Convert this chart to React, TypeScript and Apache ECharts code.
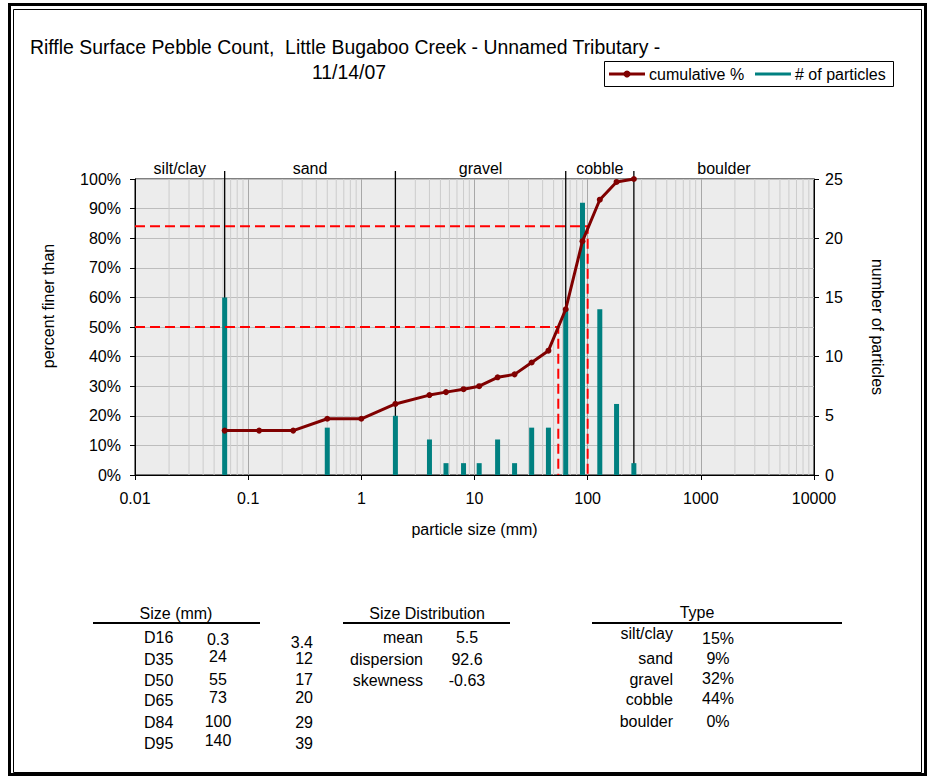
import React, { useEffect, useRef } from "react";
import * as echarts from "echarts";

// ---------------- data ----------------
const particleSizes = [0.062, 0.125, 0.25, 0.5, 1, 2, 4, 5.6, 8, 11, 16, 22.6, 32, 45, 64, 90, 128, 180, 256];
const cumulativePct = [15, 15, 15, 19, 19, 24, 27, 28, 29, 30, 33, 34, 38, 42, 56, 79, 93, 99, 100];
const countSizes = [0.062, 0.5, 2, 4, 5.6, 8, 11, 16, 22.6, 32, 45, 64, 90, 128, 180, 256];
const particleCounts = [15, 4, 5, 3, 1, 1, 1, 3, 1, 4, 4, 14, 23, 14, 6, 1];
const classNames = ["silt/clay", "sand", "gravel", "cobble", "boulder"];
const classBounds = [0.01, 0.062, 2, 64, 256, 10000];
const xTickLabels = ["0.01", "0.1", "1", "10", "100", "1000", "10000"];
const dLabels = ["D16", "D35", "D50", "D65", "D84", "D95"];
const dPercents = [16, 35, 50, 65, 84, 95];
const dSizes = ["0.3", "24", "55", "73", "100", "140"];
const dSecond = ["3.4", "12", "17", "20", "29", "39"];
const distLabels = ["mean", "dispersion", "skewness"];
const distValues = ["5.5", "92.6", "-0.63"];
const typeLabels = ["silt/clay", "sand", "gravel", "cobble", "boulder"];
const typeValues = ["15%", "9%", "32%", "44%", "0%"];
const titleLine1 = "Riffle Surface Pebble Count,  Little Bugaboo Creek - Unnamed Tributary -";
const titleLine2 = "11/14/07";

// ---------------- layout ----------------
const FONT = '"Liberation Sans", Arial, sans-serif';
const sizeRowY = [637, 659, 680, 700, 722, 743];
const sizeValY = [639, 656, 679, 697, 721, 740];
const sizeSecY = [642, 658, 679, 697, 722, 743];
const distRowY = [637, 659, 680];
const typeRowY = [633, 658, 679, 699, 721];
const typeValY = [638, 658, 678, 698, 721];

const dGuide = (p: number) => {
  const i = dPercents.indexOf(p);
  const s = parseFloat(dSizes[i]);
  return [[0.01, p], [s, p], [s, 0]];
};

// minor log grid positions (axis styling)
const minorGrid: number[][] = [];
for (let e = -2; e < 4; e++) {
  for (let k = 2; k <= 9; k++) minorGrid.push([k * Math.pow(10, e), 0]);
}

const txt = (text: string, x: number, y: number, align: string, size = 16, extra: any = {}) => ({
  type: "text",
  x,
  y,
  style: { text, fill: "#000", font: `${size}px ${FONT}`, align, verticalAlign: "middle" },
  ...extra,
});

const hline = (x1: number, x2: number, y: number, w = 2) => ({
  type: "line",
  shape: { x1, y1: y, x2, y2: y },
  style: { stroke: "#000", lineWidth: w },
});

function buildOption(): any {
  const graphics: any[] = [
    // outer double border
    { type: "rect", shape: { x: 9.5, y: 4.5, width: 916, height: 770 }, style: { fill: "none", stroke: "#000", lineWidth: 3 } },
    { type: "rect", shape: { x: 13.5, y: 9.5, width: 908, height: 763 }, style: { fill: "none", stroke: "#000", lineWidth: 1 } },
    // title
    txt(titleLine1, 30, 47, "left", 19.4),
    txt(titleLine2, 349, 72, "center", 19.4),
    // legend
    { type: "rect", shape: { x: 604.5, y: 61.5, width: 289, height: 25 }, style: { fill: "#fff", stroke: "#000", lineWidth: 1 } },
    { type: "line", shape: { x1: 609, y1: 74, x2: 645, y2: 74 }, style: { stroke: "#800000", lineWidth: 3 } },
    { type: "circle", shape: { cx: 627, cy: 74, r: 3.5 }, style: { fill: "#800000" } },
    txt("cumulative %", 649, 74, "left"),
    { type: "line", shape: { x1: 755, y1: 74, x2: 791, y2: 74 }, style: { stroke: "#008080", lineWidth: 3 } },
    txt("# of particles", 795, 74, "left"),
    // left axis title
    txt("percent finer than", 48, 306, "center", 16, { rotation: Math.PI / 2 }),
    // Size table
    txt("Size (mm)", 176, 613, "center"),
    hline(93, 260, 623),
    // Size distribution
    txt("Size Distribution", 427, 613, "center"),
    hline(343, 510, 623),
    // Type
    txt("Type", 697, 612, "center"),
    hline(592, 842, 623),
  ];
  dLabels.forEach((l, i) => {
    graphics.push(txt(l, 144, sizeRowY[i], "left"));
    graphics.push(txt(dSizes[i], 218, sizeValY[i], "center"));
    graphics.push(txt(dSecond[i], 313, sizeSecY[i], "right"));
  });
  distLabels.forEach((l, i) => {
    graphics.push(txt(l, 423, distRowY[i], "right"));
    graphics.push(txt(distValues[i], 467, distRowY[i], "center"));
  });
  typeLabels.forEach((l, i) => {
    graphics.push(txt(l, 673, typeRowY[i], "right"));
    graphics.push(txt(typeValues[i], 718, typeValY[i], "center"));
  });

  const classMid = classNames.map((n, i) => [Math.sqrt(classBounds[i] * classBounds[i + 1]), 100, n]);
  const classLines = classBounds.slice(1, -1).map((b) => [b, 0]);

  return {
    animation: false,
    backgroundColor: "#fff",
    textStyle: { fontFamily: FONT },
    grid: {
      left: 135,
      right: 113,
      top: 179,
      bottom: 301,
      show: true,
      backgroundColor: "#ececec",
      borderColor: "#000",
      borderWidth: 1,
    },
    xAxis: {
      type: "log",
      logBase: 10,
      min: 0.01,
      max: 10000,
      splitNumber: 6,
      name: "particle size (mm)",
      nameLocation: "middle",
      nameGap: 46,
      nameTextStyle: { fontSize: 16, color: "#000", fontFamily: FONT },
      axisLine: { show: true, lineStyle: { color: "#000", width: 1 } },
      axisTick: { show: true, length: 5, lineStyle: { color: "#000" } },
      axisLabel: {
        fontSize: 16,
        color: "#000",
        margin: 15,
        fontFamily: FONT,
        formatter: (v: number) => xTickLabels[Math.round(Math.log10(v)) + 2] ?? "",
      },
      splitLine: { show: true, lineStyle: { color: "#a8a8a8", width: 1 } },
    },
    yAxis: [
      {
        type: "value",
        min: 0,
        max: 100,
        interval: 10,
        position: "left",
        axisLine: { show: true, lineStyle: { color: "#000", width: 1 } },
        axisTick: { show: true, length: 5, lineStyle: { color: "#000" } },
        axisLabel: { fontSize: 16, color: "#000", margin: 14, fontFamily: FONT, formatter: "{value}%" },
        splitLine: { show: true, lineStyle: { color: "#bdbdbd", width: 1 } },
      },
      {
        type: "value",
        min: 0,
        max: 25,
        interval: 5,
        position: "right",
        name: "number of particles",
        nameLocation: "middle",
        nameRotate: -90,
        nameGap: 55,
        nameTextStyle: { fontSize: 16, color: "#000", fontFamily: FONT },
        axisLine: { show: true, lineStyle: { color: "#000", width: 1 } },
        axisTick: { show: true, length: 5, lineStyle: { color: "#000" } },
        axisLabel: { fontSize: 16, color: "#000", margin: 11, fontFamily: FONT },
        splitLine: { show: false },
      },
    ],
    graphic: { elements: graphics },
    series: [
      {
        type: "custom",
        name: "minor grid",
        silent: true,
        z: 1,
        data: minorGrid,
        renderItem: (_p: any, api: any) => {
          const x = api.value(0);
          const a = api.coord([x, 0]);
          const b = api.coord([x, 100]);
          return {
            type: "line",
            shape: { x1: a[0], y1: a[1], x2: b[0], y2: b[1] },
            style: { stroke: "#cccccc", lineWidth: 1 },
          };
        },
      },
      {
        type: "custom",
        name: "class bounds",
        silent: true,
        z: 2,
        data: classLines,
        renderItem: (_p: any, api: any) => {
          const x = api.value(0);
          const a = api.coord([x, 0]);
          const b = api.coord([x, 100]);
          return {
            type: "line",
            shape: { x1: a[0], y1: a[1], x2: b[0], y2: b[1] - 8 },
            style: { stroke: "#000", lineWidth: 1.3 },
          };
        },
      },
      {
        type: "custom",
        name: "class names",
        silent: true,
        z: 2,
        data: classMid,
        dimensions: ["x", "y", "name"],
        encode: { x: 0, y: 1 },
        renderItem: (params: any, api: any) => {
          const x = api.value(0);
          const p = api.coord([x, 100]);
          return {
            type: "text",
            x: p[0],
            y: p[1] - 3,
            style: {
              text: classNames[params.dataIndex],
              fill: "#000",
              font: `16px ${FONT}`,
              align: "center",
              verticalAlign: "bottom",
            },
          };
        },
      },
      {
        type: "custom",
        name: "# of particles",
        yAxisIndex: 1,
        z: 3,
        data: countSizes.map((s, i) => [s, particleCounts[i]]),
        renderItem: (_p: any, api: any) => {
          const x = api.value(0);
          const v = api.value(1);
          const top = api.coord([x, v]);
          const base = api.coord([x, 0]);
          return {
            type: "rect",
            shape: { x: top[0] - 2.5, y: top[1], width: 5, height: base[1] - top[1] },
            style: { fill: "#008080" },
          };
        },
      },
      {
        type: "line",
        name: "D50",
        z: 4,
        symbol: "none",
        silent: true,
        data: dGuide(50),
        lineStyle: { color: "#ff0000", width: 2, type: [10, 5] },
      },
      {
        type: "line",
        name: "D84",
        z: 4,
        symbol: "none",
        silent: true,
        data: dGuide(84),
        lineStyle: { color: "#ff0000", width: 2, type: [10, 5] },
      },
      {
        type: "line",
        name: "cumulative %",
        z: 5,
        symbol: "circle",
        symbolSize: 6,
        data: particleSizes.map((s, i) => [s, cumulativePct[i]]),
        lineStyle: { color: "#800000", width: 3 },
        itemStyle: { color: "#800000" },
      },
    ],
  };
}

export default function App() {
  const ref = useRef<HTMLDivElement>(null);
  useEffect(() => {
    const chart = echarts.init(ref.current!, null, { renderer: "svg" });
    chart.setOption(buildOption());
    return () => chart.dispose();
  }, []);
  return (
    <div
      ref={ref}
      style={{ position: "absolute", left: 0, top: 0, width: 927, height: 776, background: "#fff" }}
    />
  );
}
